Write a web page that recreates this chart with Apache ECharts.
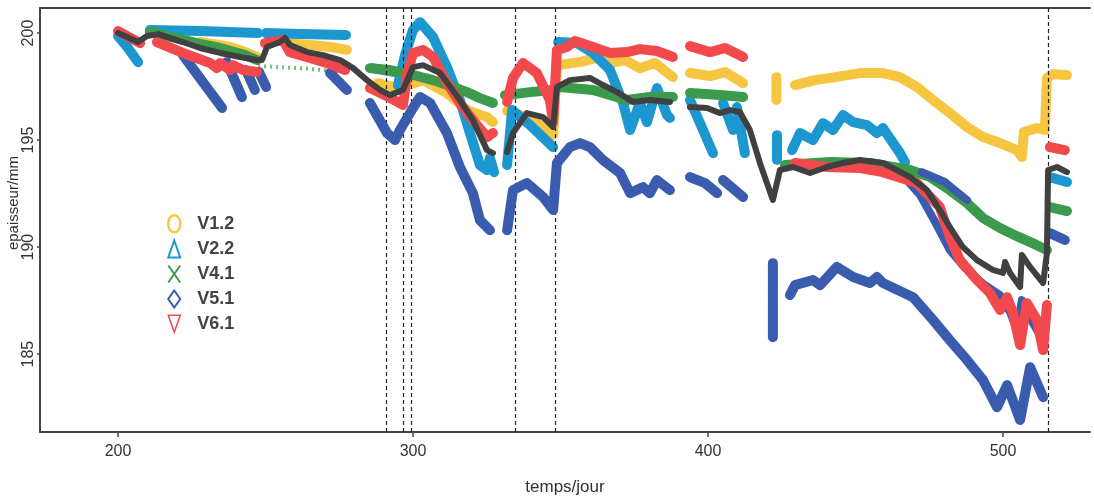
<!DOCTYPE html>
<html><head><meta charset="utf-8">
<script src="https://cdn.jsdelivr.net/npm/echarts@6/dist/echarts.min.js"></script>
<style>html,body{margin:0;padding:0;background:#fff}#c{width:1094px;height:501px}</style>
</head><body><div id="c"></div>
<script>
const xTicks = [200, 300, 400, 500];
const yTicks = [185, 190, 195, 200];
const eventDays = [290.8, 296.7, 299.3, 334.6, 348.1, 515.3];

const v12 = [
 [[227.8,199.58],[238.0,199.35],[243.1,199.11],[247.1,198.88]],
 [[256.6,199.53],[265.1,199.44],[271.9,199.35],[277.6,199.21]],
 [[288.1,197.66],[292.2,197.52],[296.6,197.34],[298.3,197.57],[303.4,197.80],[311.5,197.20],[318.3,196.40],[325.1,196.07],[327.1,195.84]],
 [[331.9,196.36],[339.7,196.03],[347.5,195.23],[348.8,198.50],[356.6,198.64],[361.7,198.83],[366.8,198.60],[371.9,198.74],[376.9,198.36],[382.0,198.60],[388.1,197.94]],
 [[393.9,198.13],[400.7,197.99],[405.8,198.18],[411.9,197.66]],
 [[423.2,197.94],[423.2,196.87]],
 [[429.5,197.57],[436.3,197.80],[443.1,197.94],[451.5,198.13],[459.3,198.13],[465.1,197.94],[470.8,197.48],[476.3,196.87],[482.0,196.26],[487.8,195.61],[493.2,195.14],[499.0,194.86],[504.7,194.53],[506.4,194.21],[507.1,195.37],[511.5,195.56],[514.2,195.47],[514.9,197.90],[516.9,198.08],[521.7,198.04]]
];
const v22 = [
 [[200.0,199.86],[203.4,199.30],[206.8,198.64]],
 [[210.8,200.14],[227.8,200.09],[247.5,200.00]],
 [[250.2,200.00],[261.7,199.95],[277.3,199.91]],
 [[286.1,198.36],[293.9,198.18]],
 [[294.9,197.57],[297.3,198.97],[300.0,200.14],[302.4,200.51],[306.8,199.81],[311.5,198.41],[315.9,196.87],[319.3,195.33],[322.7,193.83],[325.1,193.60],[326.1,194.16],[327.5,193.50]],
 [[331.9,193.83],[333.6,196.40],[339.7,195.70],[347.5,194.67]],
 [[349.2,199.58],[355.6,199.53],[361.0,199.07],[366.8,198.27],[371.2,196.73],[373.6,195.47],[376.9,196.73],[379.3,195.84],[382.7,197.43],[386.1,196.17],[387.1,196.03]],
 [[393.9,196.87],[401.7,194.39]],
 [[405.1,196.73],[408.5,195.47]],
 [[409.8,196.54],[412.5,194.39]],
 [[423.4,195.23],[423.4,194.07]],
 [[428.5,194.53],[431.2,195.33],[435.6,195.00],[439.0,195.79],[442.4,195.47],[445.8,196.17],[449.2,195.84],[453.9,195.70],[457.3,195.33],[459.3,195.56],[465.1,194.39],[466.8,193.97]],
 [[515.9,193.27],[521.7,193.04]]
];
const v41 = [
 [[210.8,200.05],[219.3,199.77],[227.8,199.49],[234.6,199.30],[243.1,198.97],[247.1,198.74]],
 [[285.4,198.36],[292.2,198.27],[300.0,198.04],[306.8,197.80],[313.6,197.48],[318.3,197.24],[322.7,196.96],[327.1,196.73]],
 [[331.2,197.10],[339.7,197.24],[347.5,197.34],[349.8,197.48],[361.0,197.34],[372.5,196.87],[380.3,197.01],[388.1,197.01]],
 [[393.9,197.20],[404.1,197.10],[411.9,197.01]],
 [[426.1,193.83],[441.4,193.97],[454.9,193.93],[468.5,193.60],[475.3,193.27],[482.0,192.66],[487.8,192.06],[493.2,191.36],[499.0,190.89],[504.7,190.51],[511.5,190.09],[514.9,189.86]],
 [[515.9,191.87],[521.7,191.68]]
];
const v41sparse = [
 [[247.5,198.46],[261.7,198.36],[277.0,198.18]]
];
const v51 = [
 [[222.0,198.97],[229.5,197.57],[235.3,196.50]],
 [[236.9,198.64],[242.0,197.01]],
 [[243.4,198.27],[246.4,197.34]],
 [[247.8,198.18],[250.2,197.48]],
 [[271.9,198.13],[277.6,197.34]],
 [[285.4,196.73],[291.2,195.33],[293.9,195.00],[295.6,195.47],[300.0,196.50],[302.4,197.01],[305.8,196.73],[311.5,195.33],[315.9,193.74],[320.3,192.52],[322.7,191.26],[326.1,190.79]],
 [[331.9,190.79],[333.9,192.66],[338.6,192.99],[344.1,192.34],[347.5,191.73],[348.8,193.93],[353.2,194.67],[356.6,194.86],[360.0,194.67],[364.4,194.07],[370.2,193.46],[373.6,192.52],[378.0,192.80],[380.3,192.52],[382.7,193.13],[387.1,192.66]],
 [[393.9,193.27],[399.0,192.99],[403.1,192.52]],
 [[405.1,193.13],[411.9,192.34]],
 [[422.0,189.25],[422.0,185.79]],
 [[427.8,187.76],[429.5,188.22],[435.6,188.46],[438.0,188.22],[443.7,189.07],[449.2,188.60],[454.9,188.32],[457.3,188.60],[459.3,188.32],[469.5,187.66],[476.3,186.59],[482.0,185.65],[487.8,184.72],[493.2,183.79],[498.0,182.52],[501.4,183.55],[505.8,181.92],[509.2,184.39],[513.6,182.99]],
 [[515.9,190.65],[521.0,190.33]]
];
const v51mid = [
 [[472.5,193.50],[480.3,193.04],[487.8,192.20]],
 [[466.8,193.22],[471.9,192.43],[477.0,191.17],[482.0,189.86],[487.1,189.02],[493.9,188.22],[499.0,187.76],[502.4,186.96],[504.7,186.12],[506.4,187.52],[509.2,186.68],[512.5,185.89]]
];
const v61 = [
 [[200.0,200.09],[207.5,199.53]],
 [[213.2,199.58],[222.0,199.07],[231.2,198.60],[233.6,198.36],[234.6,198.60],[238.0,198.27],[239.0,198.50],[242.4,198.27],[247.1,198.18]],
 [[249.8,199.53],[255.9,199.67],[258.3,199.11],[265.1,198.83],[271.9,198.55],[277.0,198.27]],
 [[285.4,197.43],[290.5,197.10],[296.6,196.64],[298.0,198.04],[300.0,199.07],[303.4,199.21],[306.8,198.88],[311.5,197.66],[315.9,196.73],[320.3,195.93],[325.1,195.14],[327.1,195.33]],
 [[331.9,196.78],[333.9,197.90],[337.3,198.60],[342.0,198.13],[346.4,196.87],[347.5,195.84],[348.8,199.21],[352.2,199.35],[354.9,199.63],[360.0,199.39],[366.8,199.07],[372.5,199.11],[376.9,199.25],[382.7,199.16],[388.1,198.88]],
 [[393.9,199.39],[400.7,199.11],[405.8,199.30],[411.9,198.88]],
 [[429.5,193.93],[440.3,193.74],[451.5,193.69],[459.3,193.50],[470.8,192.99],[478.6,191.87],[482.0,190.47],[485.4,189.39],[491.2,188.46],[495.6,187.85],[499.0,187.06],[501.4,187.66],[503.4,186.92],[505.8,185.42],[508.1,187.38],[511.5,186.59],[513.6,185.19],[514.9,187.29]],
 [[515.9,194.67],[521.0,194.53]]
];
const vMean = [
 [[200.0,200.0],[206.8,199.58],[209.8,199.86],[213.6,199.95],[222.0,199.58],[227.8,199.30],[234.6,199.07],[241.4,198.88],[247.1,198.74],[248.8,198.74],[250.5,199.35],[254.9,199.58],[256.6,199.77],[258.3,199.44],[264.1,199.11],[269.5,198.97],[275.3,198.74],[279.7,198.36],[284.4,197.80],[288.8,197.34],[292.2,197.10],[296.6,197.34],[300.0,198.41],[303.4,198.50],[309.2,198.13],[315.9,196.87],[320.3,195.93],[325.1,194.53],[327.1,194.39]],
 [[331.9,194.44],[333.9,195.33],[338.6,196.26],[344.1,196.07],[347.5,195.61],[348.8,197.48],[353.2,197.80],[360.0,197.90],[364.4,197.57],[369.2,197.24],[374.6,196.78],[380.3,196.87],[387.1,196.78]],
 [[393.9,196.54],[399.7,196.50],[404.1,196.26],[407.5,196.40],[410.8,196.31],[414.2,195.47],[417.6,193.93],[422.0,192.20],[424.4,193.60],[428.8,193.74],[434.6,193.46],[440.3,193.74],[445.8,193.93],[451.5,194.07],[459.3,193.93],[468.5,193.27],[474.2,192.66],[478.6,191.73],[482.0,190.93],[486.4,190.00],[491.2,189.39],[496.6,188.93],[500.0,188.79],[500.7,189.30],[502.4,188.79],[505.8,188.13],[506.4,189.63],[509.2,189.07],[513.6,188.32],[514.9,189.72],[515.3,193.60],[518.3,193.74],[521.7,193.50]]
];

const FONT = 'Liberation Sans, Arial, sans-serif';
const colors = {y:'#f6c640', c:'#1d97cf', g:'#3c9a4c', b:'#3a5caf', r:'#f24a4c', k:'#404040'};

function join(segs){
  const out = [];
  segs.forEach((s,i)=>{ if(i) out.push(['-','-']); s.forEach(p=>out.push(p)); });
  return out;
}
function lineSeries(name, segs, color, width, z, extra){
  return Object.assign({type:'line', name, data: join(segs), symbol:'none', z, connectNulls:false,
    lineStyle:{color, width, cap:'round', join:'round'}, itemStyle:{color}, silent:true, animation:false}, extra||{});
}

const chart = echarts.init(document.getElementById('c'));
chart.setOption({
  animation:false,
  backgroundColor:'#fff',
  grid:{left:40, right:4, top:8, bottom:69},
  xAxis:[{
    type:'value', min:173.56, max:529.5, position:'bottom',
    axisLine:{show:true, onZero:false, lineStyle:{color:'#444', width:2}},
    axisTick:{show:true, customValues:xTicks, length:5, lineStyle:{color:'#444', width:1.5}},
    axisLabel:{customValues:xTicks, fontSize:16, color:'#333', margin:12, fontFamily:FONT},
    splitLine:{show:false},
    name:'temps/jour', nameLocation:'middle', nameGap:47,
    nameTextStyle:{fontSize:17, color:'#333', fontFamily:FONT}
  },{
    type:'value', min:173.56, max:529.5, position:'top',
    axisLine:{show:true, onZero:false, lineStyle:{color:'#444', width:2}},
    axisTick:{show:false}, axisLabel:{show:false}, splitLine:{show:false}
  }],
  yAxis:{
    type:'value', min:181.36, max:201.17,
    axisLine:{show:true, onZero:false, lineStyle:{color:'#444', width:2}},
    axisTick:{show:true, customValues:yTicks, length:3, lineStyle:{color:'#444', width:1.5}},
    axisLabel:{customValues:yTicks, rotate:90, fontSize:16, color:'#333', margin:3, fontFamily:FONT},
    splitLine:{show:false}
  },
  graphic:[{
    type:'text', x:14, y:203, rotation:Math.PI/2,
    style:{text:'epaisseur/mm', fill:'#333', font:'15px '+FONT, textAlign:'center', textVerticalAlign:'middle'}
  }],
  legend:{
    orient:'vertical', left:162, top:209, itemWidth:12, itemHeight:17, itemGap:6,
    symbolKeepAspect:false,
    textStyle:{fontSize:18, fontWeight:'bold', color:'#444', fontFamily:FONT, padding:[0,0,0,12]},
    data:[
      {name:'V1.2', icon:'path://M5,0C8,0 10,3 10,7C10,11 8,14 5,14C2,14 0,11 0,7C0,3 2,0 5,0Z', itemStyle:{color:'#fff', borderColor:colors.y, borderWidth:2.5}},
      {name:'V2.2', icon:'emptyTriangle'},
      {name:'V4.1', icon:'path://M0,0L10,14M10,0L0,14', itemStyle:{color:'rgba(0,0,0,0)', borderColor:colors.g, borderWidth:2}},
      {name:'V5.1', icon:'emptyDiamond'},
      {name:'V6.1', icon:'path://M0,0L10,0L5,14Z', itemStyle:{color:'#fff', borderColor:colors.r, borderWidth:1.5}}
    ]
  },
  series:[
    {type:'line', data:[], silent:true, z:1,
      markLine:{silent:true, symbol:['none','none'], label:{show:false}, animation:false,
        lineStyle:{type:[4,3], color:'#222', width:1.2}, emphasis:{disabled:true},
        data: eventDays.map(d=>({xAxis:d}))}},
    lineSeries('V1.2', v12, colors.y, 10, 2),
    lineSeries('V2.2', v22, colors.c, 10, 3),
    lineSeries('V4.1', v41, colors.g, 10, 4),
    lineSeries('V4.1', v41sparse, colors.g, 4, 4, {lineStyle:{color:colors.g, width:4, type:[2,4], opacity:0.7}}),
    lineSeries('V5.1', v51, colors.b, 10, 5),
    lineSeries('V5.1', v51mid, colors.b, 8, 5),
    lineSeries('V6.1', v61, colors.r, 10, 6),
    lineSeries('moyenne', vMean, colors.k, 6, 7)
  ]
});
</script></body></html>
